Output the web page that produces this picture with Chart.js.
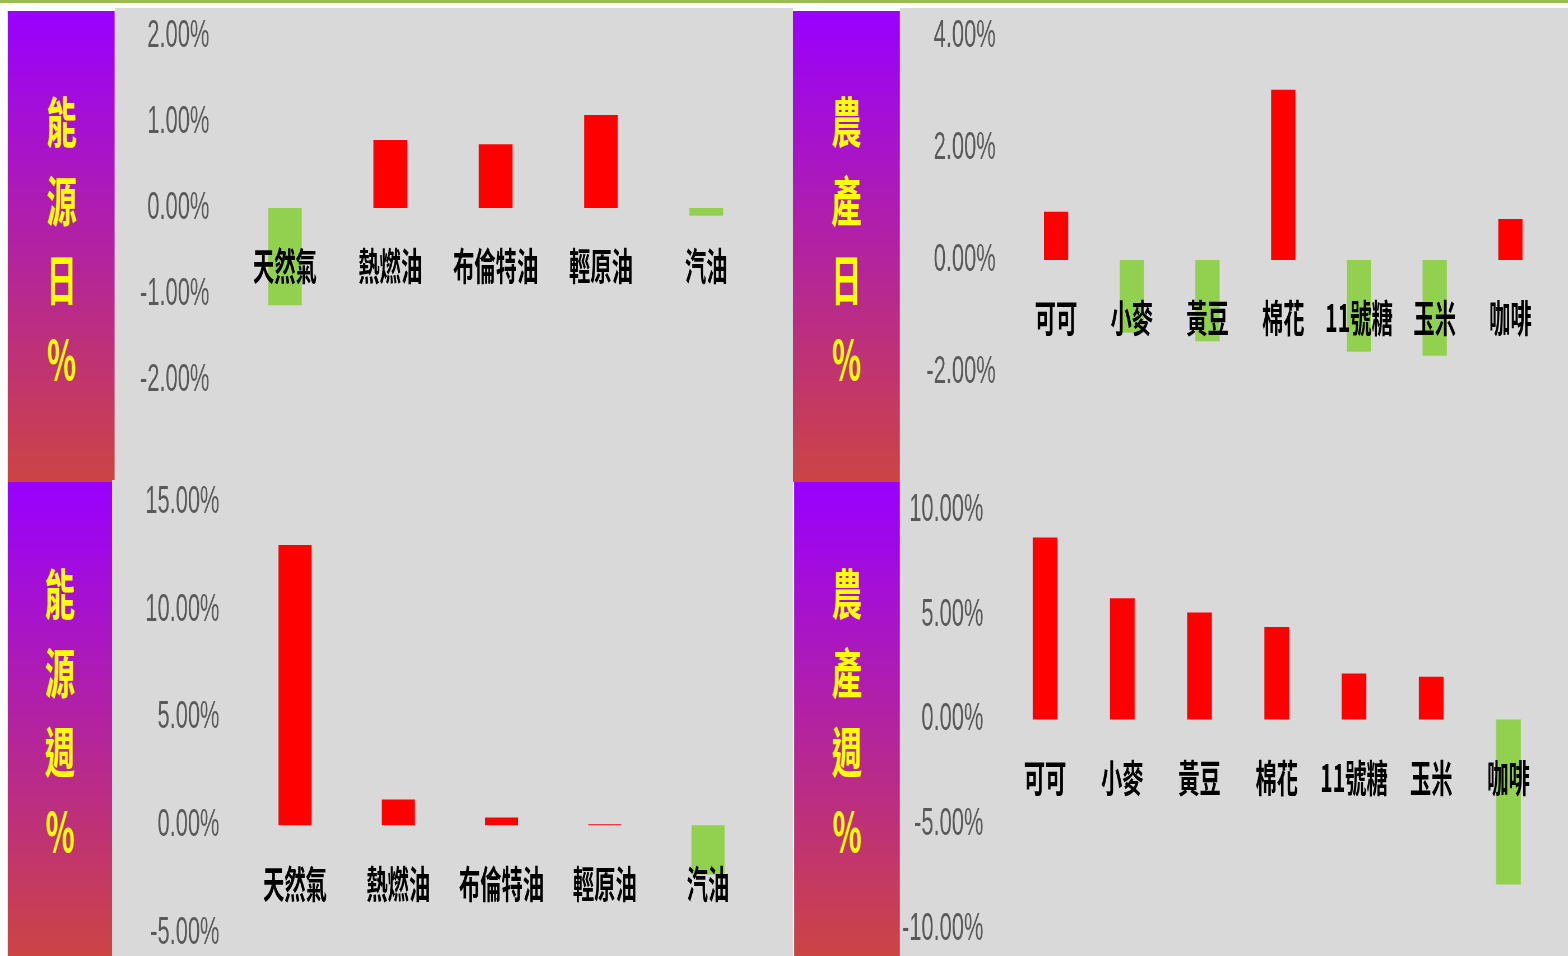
<!DOCTYPE html>
<html>
<head>
<meta charset="utf-8">
<script src="https://cdn.jsdelivr.net/npm/chart.js@4.4.1/dist/chart.umd.min.js"></script>
<style>
html, body { margin: 0; padding: 0; background: #fff; overflow: hidden; }
#page { position: absolute; left: 0; top: 0; width: 2800px; height: 956px; transform: scaleX(0.56); transform-origin: 0 0; }
.topline { position: absolute; left: 0; top: 0; width: 100%; height: 3px; background: #9bbb59; }
.side { position: absolute; background: linear-gradient(#9900ff, #cc4444); display: flex; flex-direction: column;
        align-items: center; justify-content: center; box-sizing: border-box; padding-bottom: 18px;
        color: #ffff00; font: bold 54px 'Noto Sans CJK TC', sans-serif; }
.side span { display: block; height: 79px; line-height: 79px; }
.box { position: absolute; background: #d9d9d9; }
</style>
</head>
<body>
<div id="page"><div class="topline"></div></div>
<script>
const S = 0.56; // 原圖橫向被壓扁的比例

// 能源
const energyLabels = ["天然氣", "熱燃油", "布倫特油", "輕原油", "汽油"];
const energyDay = [-1.13, 0.79, 0.74, 1.08, -0.09];
const energyWeek = [13.0, 1.2, 0.36, 0.05, -2.28];
const energyDayTicks = [-2, -1, 0, 1, 2];
const energyWeekTicks = [-5, 0, 5, 10, 15];

// 農產
const agriLabels = ["可可", "小麥", "黃豆", "棉花", "11號糖", "玉米", "咖啡"];
const agriDay = [0.86, -1.3, -1.45, 3.04, -1.64, -1.71, 0.73];
const agriWeek = [8.69, 5.79, 5.11, 4.42, 2.2, 2.04, -7.88];
const agriDayTicks = [-2, 0, 2, 4];
const agriWeekTicks = [-10, -5, 0, 5, 10];

const page = document.getElementById("page");

// 版面 (螢幕座標)
const panels = [
    { title: "能源日%", labels: energyLabels, values: energyDay, ticks: energyDayTicks,
      side: [8, 11, 115, 482], box: [115, 8, 793, 480], plot: [232.4, 36, 758.6, 380], pad: 23 },
    { title: "農產日%", labels: agriLabels, values: agriDay, ticks: agriDayTicks,
      side: [793, 11, 900, 482], box: [900, 8, 1568, 480], plot: [1018.2, 36, 1547.8, 372], pad: 22.5 },
    { title: "能源週%", labels: energyLabels, values: energyWeek, ticks: energyWeekTicks,
      side: [8, 482, 112, 956], box: [112, 480, 793, 956], plot: [243.4, 502, 759.6, 933], pad: 24 },
    { title: "農產週%", labels: agriLabels, values: agriWeek, ticks: agriWeekTicks,
      side: [794, 482, 900, 956], box: [900, 480, 1568, 956], plot: [1006.4, 510, 1546.6, 929], pad: 23 }
];

function place(el, r) {
    el.style.left = r[0] / S + "px";
    el.style.top = r[1] + "px";
    el.style.width = (r[2] - r[0]) / S + "px";
    el.style.height = (r[3] - r[1]) + "px";
}

panels.forEach(p => {
    const side = document.createElement("div");
    side.className = "side";
    place(side, p.side);
    [...p.title].forEach(ch => {
        const s = document.createElement("span");
        s.textContent = ch;
        side.appendChild(s);
    });
    page.appendChild(side);

    const box = document.createElement("div");
    box.className = "box";
    place(box, p.box);
    const canvas = document.createElement("canvas");
    box.appendChild(canvas);
    page.appendChild(box);

    new Chart(canvas, {
        type: "bar",
        data: {
            labels: p.labels,
            datasets: [{
                data: p.values,
                backgroundColor: p.values.map(v => v >= 0 ? "#ff0000" : "#92d050"),
                borderWidth: 0,
                categoryPercentage: 1,
                barPercentage: 0.32
            }]
        },
        options: {
            responsive: true,
            maintainAspectRatio: false,
            animation: false,
            layout: {
                padding: {
                    left: 0,
                    right: (p.box[2] - p.plot[2]) / S,
                    top: p.plot[1] - p.box[1],
                    bottom: p.box[3] - p.plot[3]
                }
            },
            plugins: { legend: { display: false }, tooltip: { enabled: false } },
            scales: {
                x: {
                    position: { y: 0 },
                    grid: { display: false, drawTicks: false },
                    border: { display: false },
                    ticks: {
                        z: 1, // 文字壓在柱子上面
                        color: "#000",
                        padding: 39,
                        autoSkip: false,
                        maxRotation: 0,
                        font: { family: "'Noto Sans CJK TC', sans-serif", size: 38, weight: "bold", lineHeight: 1 }
                    }
                },
                y: {
                    min: p.ticks[0],
                    max: p.ticks[p.ticks.length - 1],
                    afterFit: sc => {
                        sc.width = (p.plot[0] - p.box[0]) / S;
                        sc.paddingTop = 0;
                        sc.paddingBottom = 0;
                    },
                    afterBuildTicks: sc => { sc.ticks = p.ticks.map(v => ({ value: v })); },
                    grid: { display: false, drawTicks: false },
                    border: { display: false },
                    ticks: {
                        color: "#595959",
                        padding: p.pad / S,
                        font: { family: "'Liberation Sans', Arial, sans-serif", size: 39, lineHeight: 1 },
                        callback: v => Number(v).toFixed(2) + "%"
                    }
                }
            }
        }
    });
});
</script>
</body>
</html>
